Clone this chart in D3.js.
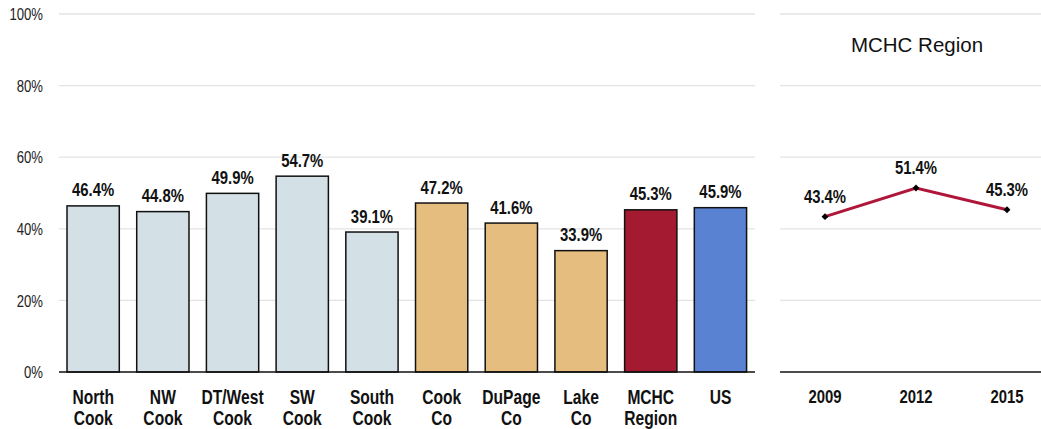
<!DOCTYPE html>
<html><head><meta charset="utf-8">
<script src="https://cdn.jsdelivr.net/npm/d3@7"></script>
<style>body{margin:0;background:#fff}svg{display:block}
text{font-family:"Liberation Sans",Arial,sans-serif}</style>
</head><body><svg id="c" width="1041" height="429"></svg>
<script>
const categories = [["North","Cook"],["NW","Cook"],["DT/West","Cook"],["SW","Cook"],["South","Cook"],["Cook","Co"],["DuPage","Co"],["Lake","Co"],["MCHC","Region"],["US"]];
const values = [46.4,44.8,49.9,54.7,39.1,47.2,41.6,33.9,45.3,45.9];
const groups = ["sub","sub","sub","sub","sub","county","county","county","region","us"];
const groupColors = {sub:"#D3E0E6",county:"#E5BD7E",region:"#A31A31",us:"#5A82D2"};
const yTicks = [0,20,40,60,80,100];
const years = ["2009","2012","2015"];
const trend = [43.4,51.4,45.3];
const title = "MCHC Region";

const SX = 0.8;
const svg = d3.select("#c");
const y = d3.scaleLinear().domain([0,100]).range([372,14]);
const x = d3.scaleBand().domain(d3.range(values.length)).range([58.3,755.3]).paddingInner(0.25).paddingOuter(0.125);
const x2 = d3.scalePoint().domain(years).range([825,1007]);

function place(sel, fx, fy, sx){
  return sel.attr("x",0).attr("y",0)
    .attr("transform",(d,i)=>`translate(${fx(d,i)},${fy(d,i)}) scale(${sx||SX},1)`);
}

// gridlines
[[59,755],[780,1041]].forEach(([a,b])=>{
  svg.append("g").selectAll("line").data(yTicks.filter(d=>d>0)).join("line")
    .attr("x1",a).attr("x2",b).attr("y1",d=>y(d)).attr("y2",d=>y(d))
    .attr("stroke","#e3e3e3").attr("stroke-width",1.3);
});

// y axis labels
const yAxis = d3.axisLeft(y).tickValues(yTicks).tickFormat(d=>d+"%").tickSize(0).tickPadding(0);
const ga = svg.append("g").attr("transform","translate(43,0)").call(yAxis);
ga.select(".domain").remove();
ga.selectAll(".tick text").attr("font-size",16).attr("fill","#222")
  .attr("font-family","'Liberation Sans',Arial,sans-serif")
  .attr("x",0).attr("dy","0.35em").attr("transform",`scale(0.82,1)`);

// bars
svg.append("g").selectAll("rect").data(values).join("rect")
  .attr("x",(d,i)=>x(i)).attr("width",x.bandwidth())
  .attr("y",d=>y(d)).attr("height",d=>y(0)-y(d))
  .attr("fill",(d,i)=>groupColors[groups[i]]).attr("stroke","#111").attr("stroke-width",1.5);

// value labels
place(svg.append("g").selectAll("text").data(values).join("text"),
  (d,i)=>x(i)+x.bandwidth()/2, d=>y(d)-9.5)
  .attr("text-anchor","middle").attr("font-size",18.6).attr("font-weight","bold").attr("fill","#111")
  .text(d=>d.toFixed(1)+"%");

// baselines
svg.append("line").attr("x1",59).attr("x2",755).attr("y1",y(0)).attr("y2",y(0)).attr("stroke","#111").attr("stroke-width",1.5);
svg.append("line").attr("x1",780).attr("x2",1041).attr("y1",y(0)).attr("y2",y(0)).attr("stroke","#111").attr("stroke-width",1.5);

// category labels
const cl = place(svg.append("g").selectAll("text").data(categories).join("text"),
  (d,i)=>x(i)+x.bandwidth()/2, ()=>404)
  .attr("text-anchor","middle").attr("font-size",19.5).attr("font-weight","bold").attr("fill","#111");
cl.selectAll("tspan").data(d=>d).join("tspan")
  .attr("x",0).attr("dy",(d,i)=>i===0?0:21).text(d=>d);

// right panel
place(svg.append("text").datum(title), ()=>917, ()=>52, 1)
  .attr("text-anchor","middle").attr("font-size",20.5).attr("fill","#111").text(d=>d);
const line = d3.line().x((d,i)=>x2(years[i])).y(d=>y(d));
svg.append("path").datum(trend).attr("d",line).attr("fill","none").attr("stroke","#B0163A").attr("stroke-width",3);
svg.append("g").selectAll("path").data(trend).join("path")
  .attr("d",d3.symbol().type(d3.symbolSquare).size(24))
  .attr("transform",(d,i)=>`translate(${x2(years[i])},${y(d)}) rotate(45)`).attr("fill","#000");
place(svg.append("g").selectAll("text").data(trend).join("text"),
  (d,i)=>x2(years[i]), d=>y(d)-14)
  .attr("text-anchor","middle").attr("font-size",18.6).attr("font-weight","bold").attr("fill","#111")
  .text(d=>d.toFixed(1)+"%");
place(svg.append("g").selectAll("text").data(years).join("text"),
  d=>x2(d), ()=>403)
  .attr("text-anchor","middle").attr("font-size",18.6).attr("font-weight","bold").attr("fill","#111")
  .text(d=>d);
</script></body></html>
